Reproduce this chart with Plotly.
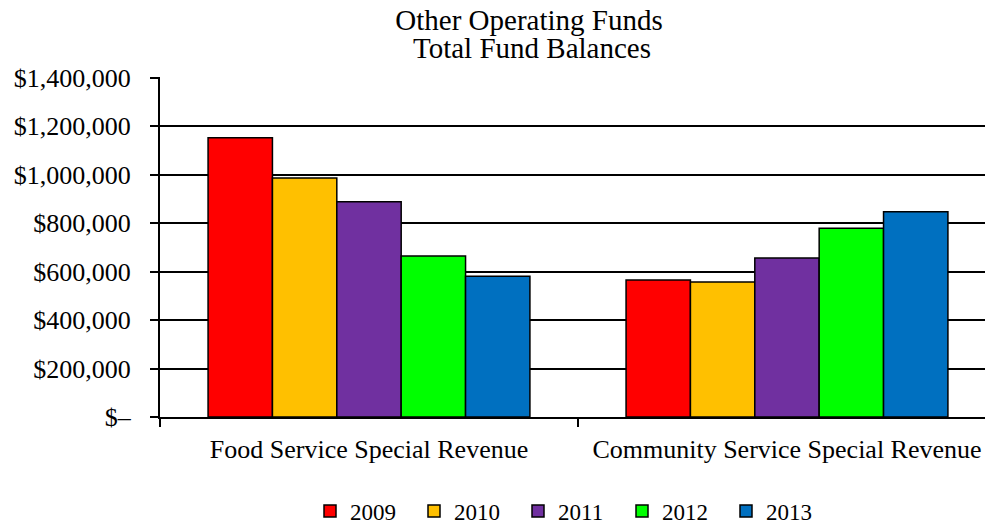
import plotly.graph_objects as go

categories = ["Food Service Special Revenue", "Community Service Special Revenue"]
years = ["2009", "2010", "2011", "2012", "2013"]
values = {
    "2009": [1152000, 565000],
    "2010": [986000, 557000],
    "2011": [888000, 656000],
    "2012": [664000, 779000],
    "2013": [581000, 847000],
}
colors = {
    "2009": "#FF0000",
    "2010": "#FFC000",
    "2011": "#7030A0",
    "2012": "#00FF00",
    "2013": "#0070C0",
}
tick_vals = [0, 200000, 400000, 600000, 800000, 1000000, 1200000, 1400000]
tick_text = ["$\u2013", "$200,000", "$400,000", "$600,000", "$800,000",
             "$1,000,000", "$1,200,000", "$1,400,000"]
title_line1 = "Other Operating Funds"
title_line2 = "Total Fund Balances"

FONT = "Liberation Serif, Times New Roman, serif"

fig = go.Figure()
for y in years:
    fig.add_trace(go.Bar(
        name=y, x=categories, y=values[y],
        marker=dict(color=colors[y], line=dict(color="black", width=1.5)),
    ))

fig.update_layout(
    width=993, height=525,
    barmode="group", bargap=0.23, bargroupgap=0,
    paper_bgcolor="white", plot_bgcolor="white",
    margin=dict(l=152, r=0, t=69, b=116),
    font=dict(family=FONT, size=26, color="black"),
    title=dict(text=title_line1,
               x=521/993, xref="container", xanchor="center",
               y=1 - 12/525, yref="container", yanchor="middle",
               font=dict(family=FONT, size=29, color="black")),
    showlegend=True,
    legend=dict(orientation="h", x=562/993, xref="container", xanchor="center",
                y=1 - 503/525, yref="container", yanchor="middle",
                font=dict(family=FONT, size=23, color="black"),
                itemwidth=30, traceorder="normal",
                entrywidth=59, entrywidthmode="pixels"),
)
fig.add_annotation(
    text=title_line2, showarrow=False,
    x=(524 - 152) / 841, xref="paper", xanchor="center",
    y=1 + (69 - 40) / 340, yref="paper", yanchor="middle",
    font=dict(family=FONT, size=29, color="black"),
)
fig.update_xaxes(
    type="category", range=[-0.5, 1.512],
    showline=True, linecolor="black", linewidth=2,
    ticks="outside", tickson="boundaries", ticklen=8, tickcolor="black", tickwidth=2,
    ticklabelstandoff=8,
    showgrid=False, tickfont=dict(family=FONT, size=26, color="black"),
)
fig.update_yaxes(
    range=[0, 1403000], tickvals=tick_vals, ticktext=tick_text,
    showline=True, linecolor="black", linewidth=2,
    ticks="outside", ticklen=8, tickcolor="black", tickwidth=2,
    ticklabelstandoff=14,
    showgrid=True, gridcolor="black", gridwidth=1.5,
    zeroline=False,
    tickfont=dict(family=FONT, size=26, color="black"),
)

fig.write_html("out.html")
